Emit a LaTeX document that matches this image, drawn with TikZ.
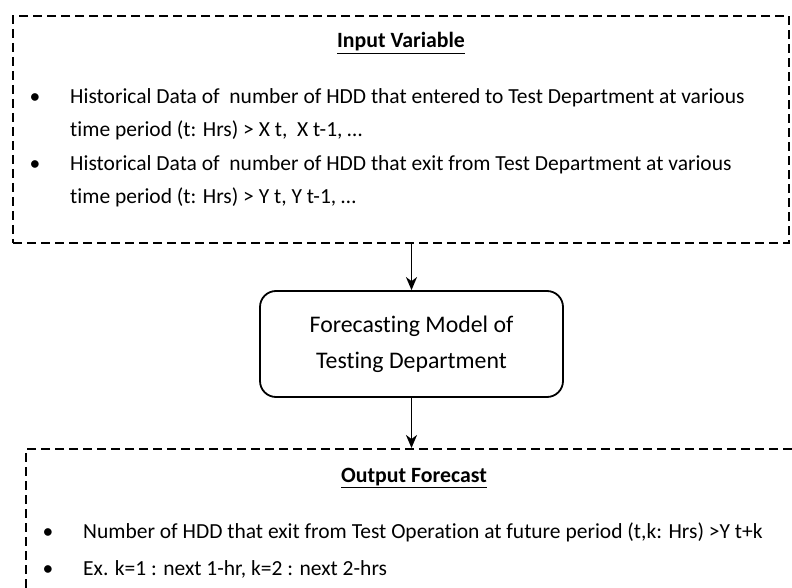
\documentclass[tikz,border=0pt]{standalone}
\usepackage{fontspec}
\setmainfont{Carlito}[Ligatures=NoCommon]
\usetikzlibrary{arrows.meta,positioning}

\begin{document}
\begin{tikzpicture}[x=1pt, y=-1pt,
    dashbox/.style={draw, line width=2pt, dash pattern=on 9pt off 5pt, inner sep=0pt},
    modelbox/.style={draw, line width=1.8pt, rounded corners=16pt, inner sep=0pt, align=center, font=\fontsize{23.8}{36}\selectfont},
    head/.style={anchor=base, inner sep=0pt, font=\fontsize{21.8}{24}\selectfont\bfseries},
    txt/.style={anchor=base west, inner sep=0pt, font=\fontsize{21.5}{24}\selectfont},
    dot/.style={anchor=base, inner sep=0pt, font=\fontsize{21.5}{24}\selectfont},
    arr/.style={-{Stealth[length=13pt,width=11pt,inset=4pt]}, line width=1.8pt}
  ]
  \useasboundingbox (0,0) rectangle (792,588);
  \clip (0,0) rectangle (792,588);
  \node[dashbox, minimum width=776pt, minimum height=227pt] (inbox) at (401,129.5) {};
  \node[modelbox, minimum width=303pt, minimum height=106pt] (model) at (411.5,344) {Forecasting Model of\\Testing Department};
  \node[dashbox, minimum width=772pt, minimum height=160pt] (outbox) at (412,529) {};
  % input variables
  \node[head] (intitle) at (401,48) {\underline{Input Variable}};
  \node[dot] (bin1) at (35,104) {\textbullet};
  \node[txt] (in1a) at (70,104) {Historical Data of\ \ number of HDD that entered to Test Department at various};
  \node[txt] (in1b) at (70,137) {time period (t: Hrs) > X t,\ \ X t-1, …};
  \node[dot] (bin2) at (35,171) {\textbullet};
  \node[txt] (in2a) at (70,171) {Historical Data of\ \ number of HDD that exit from Test Department at various};
  \node[txt] (in2b) at (70,204) {time period (t: Hrs) > Y t, Y t-1, …};
  % output forecast
  \node[head] (outtitle) at (414,482) {\underline{Output Forecast}};
  \node[dot] (bout1) at (48,538) {\textbullet};
  \node[txt] (out1) at (83,538) {Number of HDD that exit from Test Operation at future period (t,k: Hrs) >Y t+k};
  \node[dot] (bout2) at (48,575) {\textbullet};
  \node[txt] (out2) at (83,575) {Ex. k=1 : next 1-hr, k=2 : next 2-hrs};
  \draw[arr] (inbox.south -| model.north) -- (model.north);
  \draw[arr] (model.south) -- (model.south |- outbox.north);
\end{tikzpicture}
\end{document}
